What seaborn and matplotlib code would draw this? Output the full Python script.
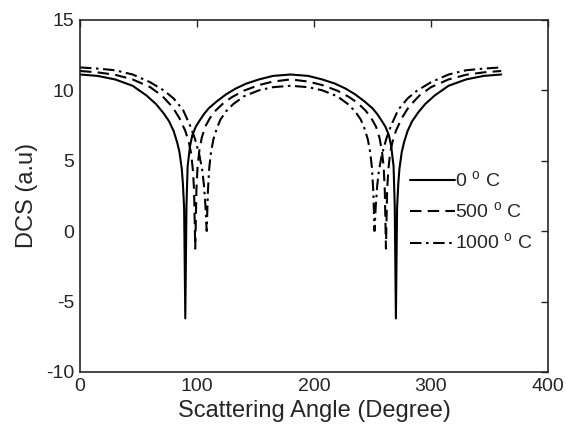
import matplotlib
matplotlib.use("Agg")
import matplotlib.pyplot as plt
import seaborn as sns
import pandas as pd

# ---- data ----
angle_0 = [0, 15, 30, 45, 57, 65, 71, 76, 80, 83, 85, 87, 88, 89, 90, 91, 92, 94, 96, 99, 102, 106, 110, 117, 125, 133, 142, 153, 165, 180,
           195, 207, 218, 227, 235, 243, 250, 254, 258, 261, 264, 266, 268, 269, 270, 271, 272, 273, 275, 277, 280, 284, 289, 295, 303, 315, 330, 345, 360]
dcs_0 = [11.1, 11.0, 10.75, 10.3, 9.6, 9.0, 8.4, 7.8, 7.1, 6.3, 5.6, 4.4, 3.3, 1.6, -6.2, 1.8, 4.6, 6.0, 6.8, 7.4, 7.8, 8.3, 8.7, 9.2, 9.7, 10.1, 10.45, 10.75, 11.0, 11.1,
         11.0, 10.75, 10.45, 10.1, 9.7, 9.2, 8.7, 8.3, 7.8, 7.4, 6.8, 6.0, 4.6, 1.8, -6.2, 1.6, 3.3, 4.4, 5.6, 6.3, 7.1, 7.8, 8.4, 9.0, 9.6, 10.3, 10.75, 11.0, 11.1]

angle_500 = [0, 15, 30, 45, 60, 70, 79, 85, 90, 93, 95, 96.5, 97.5, 98.5, 99.5, 100.5, 102, 104, 107, 111, 116, 123, 130, 140, 153, 165, 180,
             195, 207, 220, 230, 237, 244, 249, 253, 256, 258, 259.5, 260.5, 261.5, 262.5, 263.5, 265, 267, 270, 275, 281, 290, 300, 315, 330, 345, 360]
dcs_500 = [11.35, 11.25, 11.08, 10.75, 10.2, 9.6, 8.8, 8.0, 7.1, 6.3, 5.5, 4.3, 2.9, -1.25, 2.9, 4.6, 5.7, 6.6, 7.4, 8.0, 8.55, 9.1, 9.5, 9.95, 10.35, 10.6, 10.75,
           10.6, 10.35, 9.95, 9.5, 9.1, 8.55, 8.0, 7.4, 6.6, 5.7, 4.6, 2.9, -1.25, 2.9, 4.3, 5.5, 6.3, 7.1, 8.0, 8.8, 9.6, 10.2, 10.75, 11.08, 11.25, 11.35]

angle_1000 = [0, 15, 30, 45, 60, 72, 80, 88, 94, 98, 102, 104.5, 106, 107.2, 108.3, 109.3, 110.5, 112, 114, 117, 120, 125, 131, 140, 153, 165, 180,
              195, 207, 220, 229, 235, 240, 243, 246, 248, 249.5, 250.7, 251.7, 252.8, 254, 255.5, 258, 262, 266, 272, 280, 288, 300, 315, 330, 345, 360]
dcs_1000 = [11.6, 11.52, 11.4, 11.1, 10.55, 9.95, 9.4, 8.6, 7.5, 6.6, 5.4, 4.3, 3.2, 1.8, 0.0, 2.8, 4.5, 5.6, 6.5, 7.3, 7.9, 8.5, 9.0, 9.55, 9.98, 10.2, 10.3,
            10.2, 9.98, 9.55, 9.0, 8.5, 7.9, 7.3, 6.5, 5.6, 4.5, 2.8, 0.0, 1.8, 3.2, 4.3, 5.4, 6.6, 7.5, 8.6, 9.4, 9.95, 10.55, 11.1, 11.4, 11.52, 11.6]

labels = [r"0 $^{\rm o}$ C", r"500 $^{\rm o}$ C", r"1000 $^{\rm o}$ C"]
x_ticks = [0, 100, 200, 300, 400]
y_ticks = [-10, -5, 0, 5, 10, 15]

sns.set_theme(style="white")
plt.rcParams["font.family"] = ["Liberation Sans", "DejaVu Sans"]
plt.rcParams["mathtext.fontset"] = "custom"
plt.rcParams["mathtext.rm"] = "Liberation Sans"
plt.rcParams["axes.unicode_minus"] = False

fig = plt.figure(figsize=(5.66, 4.38), dpi=100)
ax = fig.add_axes([80 / 566, (438 - 372) / 438, (548 - 80) / 566, (372 - 19.5) / 438])

styles = ["-", (0, (5.5, 3.0)), (0, (5.5, 2.2, 1.2, 2.2))]
series = [(angle_0, dcs_0), (angle_500, dcs_500), (angle_1000, dcs_1000)]
for (a, d), lab, ls in zip(series, labels, styles):
    df = pd.DataFrame({"angle": a, "dcs": d})
    sns.lineplot(data=df, x="angle", y="dcs", ax=ax, color="black", linewidth=1.5,
                 sort=False, estimator=None, label=lab, linestyle=ls)

ax.set_xlim(0, 400)
ax.set_ylim(-10, 15)
ax.set_xticks(x_ticks)
ax.set_yticks(y_ticks)
ax.set_xlabel("Scattering Angle (Degree)", fontsize=17, color="#262626", labelpad=4)
ax.set_ylabel("DCS (a.u)", fontsize=17, color="#262626", labelpad=6)
ax.tick_params(axis="both", which="both", direction="in", top=True, right=True,
               length=5, width=1, colors="#262626", labelsize=14, pad=4)
for s in ax.spines.values():
    s.set_visible(True)
    s.set_color("#262626")
    s.set_linewidth(1.2)

leg = ax.legend(loc="center left", bbox_to_anchor=(0.688, 0.455), frameon=False,
                fontsize=14, handlelength=2.35, handletextpad=0.0, labelspacing=0.55,
                borderaxespad=0)
for t in leg.get_texts():
    t.set_color("#262626")

fig.savefig("out.png", dpi=100)
